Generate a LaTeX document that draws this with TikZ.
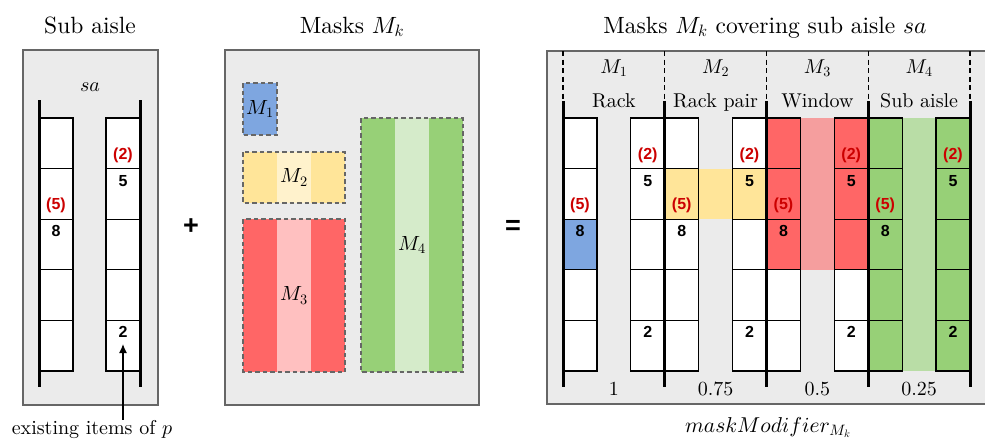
\documentclass[tikz,border=0pt]{standalone}
\usepackage{fontspec}
% Latin Modern in its 10pt design at every size
\setmainfont{lmroman10-regular.otf}[Ligatures=TeX, ItalicFont=lmroman10-italic.otf, BoldFont=lmroman10-bold.otf]
\DeclareFontShape{OML}{cmm}{m}{it}{<->cmmi10}{}
\DeclareFontShape{OT1}{cmr}{m}{n}{<->cmr10}{}
\newfontfamily\cellfont{Liberation Sans}
\usetikzlibrary{arrows.meta}

\definecolor{panelfill}{HTML}{EBEBEB}
\definecolor{panelline}{HTML}{666666}
\definecolor{maskblue}{HTML}{7EA6E0}
\definecolor{maskyellow}{HTML}{FFE599}
\definecolor{maskyellowlt}{HTML}{FFF2CC}
\definecolor{maskred}{HTML}{FF6666}
\definecolor{maskredlt}{HTML}{FFC0C0}
\definecolor{maskredmid}{HTML}{F59E9E}
\definecolor{maskgreen}{HTML}{97D077}
\definecolor{maskgreenlt}{HTML}{D5EBCA}
\definecolor{maskgreenmid}{HTML}{B9DDA6}
\definecolor{itemred}{HTML}{CC0000}

\tikzset{
  panel/.style={draw=panelline, fill=panelfill, line width=1.5pt},
  cell/.style={draw=black, line width=1.3pt},
  rackline/.style={draw=black, line width=3pt},
  sectionsep/.style={draw=black, line width=1.3pt, dash pattern=on 5pt off 3.5pt},
  maskbox/.style={draw=panelline, line width=1.3pt, dash pattern=on 4.5pt off 3pt},
  demand/.style={text=itemred, font=\cellfont\bfseries\fontsize{16}{18}\selectfont, inner sep=0pt},
  stock/.style={text=black, font=\cellfont\bfseries\fontsize{16}{18}\selectfont, inner sep=0pt},
  heading/.style={font=\fontsize{23.5}{28}\selectfont, anchor=base, inner sep=0pt},
  caption/.style={font=\fontsize{20}{24}\selectfont, anchor=base, inner sep=0pt},
  masklabel/.style={font=\fontsize{20.5}{24}\selectfont, inner sep=0pt},
  operator/.style={font=\cellfont\bfseries\fontsize{27}{30}\selectfont, inner sep=0pt},
  pointer/.style={draw=black, line width=1.3pt, -{Latex[length=9pt,width=8pt]}},
}

\begin{document}
\begin{tikzpicture}[x=1pt,y=-1pt]
\clip (0,0) rectangle (985,440);

% ---------- panels and headings ----------
\draw[panel] (23,50) rectangle (158,405);
\draw[panel] (225,50) rectangle (479,405);
\draw[panel] (547,51) rectangle (1000,404);

\node[heading] (t-sub)   at (90,33)  {Sub aisle};
\node[heading] (t-masks) at (352,33) {Masks $M_k$};
\node[heading] (t-cover) at (765,33) {Masks $M_k$ covering sub aisle $sa$};

\node[operator] (plus)   at (191,227) {+};
\node[operator] (equals) at (513,227) {=};

% ---------- sub aisle sa ----------
\node[caption] (sa) at (90,91) {$sa$};
\foreach \r in {0,...,4}{
  \draw[cell, fill=white] (39,118+50.6*\r) rectangle ++(34,50.6);
  \draw[cell, fill=white] (106,118+50.6*\r) rectangle ++(34,50.6);
}
\draw[rackline] (39,100) -- (39,387);
\draw[rackline] (140,100) -- (140,387);

\node[demand] (sa-d5) at (56,205) {(5)};
\node[stock]  (sa-s8) at (56,231) {8};
\node[demand] (sa-d2) at (123,155) {(2)};
\node[stock]  (sa-s5) at (123,181) {5};
\node[stock]  (sa-s2) at (123,332) {2};

\node[caption] (note) at (92,434) {existing items of $p$};
\coordinate (tip) at (123,344);
\draw[pointer] (note.north -| tip) -- (tip);

% ---------- masks ----------
\fill[maskblue] (243,83) rectangle ++(34,52);
\draw[maskbox]  (243,83) rectangle ++(34,52);
\node[masklabel] (m1) at (260,109) {$M_1$};

\fill[maskyellow]   (243,152) rectangle ++(102,51);
\fill[maskyellowlt] (277,152) rectangle ++(34,51);
\draw[maskbox]      (243,152) rectangle ++(102,51);
\node[masklabel] (m2) at (294,177.5) {$M_2$};

\fill[maskred]   (243,219) rectangle ++(102,153);
\fill[maskredlt] (277,219) rectangle ++(34,153);
\draw[maskbox]   (243,219) rectangle ++(102,153);
\node[masklabel] (m3) at (294,295.5) {$M_3$};

\fill[maskgreen]   (361,118) rectangle ++(102,254);
\fill[maskgreenlt] (395,118) rectangle ++(34,254);
\draw[maskbox]     (361,118) rectangle ++(102,254);
\node[masklabel] (m4) at (412,245) {$M_4$};

% ---------- masks laid over the sub aisle ----------
% aisle fills between the two racks
\fill[maskyellow]   (698.75,168.6) rectangle (732.5,219.2);
\fill[maskredmid]   (800.5,118)    rectangle (834.25,269.8);
\fill[maskgreenmid] (902.25,118)   rectangle (936,371);

\foreach \L/\R in {563/664.75, 664.75/766.5, 766.5/868.25, 868.25/970}{
  \foreach \r in {0,...,4}{
    \draw[cell, fill=white] (\L,118+50.6*\r) rectangle ++(34,50.6);
    \draw[cell, fill=white] (\R-34,118+50.6*\r) rectangle ++(34,50.6);
  }
}
% M1: one rack cell
\draw[cell, fill=maskblue] (563,219.2) rectangle ++(34,50.6);
% M2: one level across the rack pair
\draw[cell, fill=maskyellow] (664.75,168.6) rectangle ++(34,50.6);
\draw[cell, fill=maskyellow] (732.5,168.6) rectangle ++(34,50.6);
% M3: three levels in both racks
\foreach \r in {0,1,2}{
  \draw[cell, fill=maskred] (766.5,118+50.6*\r) rectangle ++(34,50.6);
  \draw[cell, fill=maskred] (834.25,118+50.6*\r) rectangle ++(34,50.6);
}
% M4: the whole sub aisle
\foreach \r in {0,...,4}{
  \draw[cell, fill=maskgreen] (868.25,118+50.6*\r) rectangle ++(34,50.6);
  \draw[cell, fill=maskgreen] (936,118+50.6*\r) rectangle ++(34,50.6);
}

\foreach \x in {563, 664.75, 766.5, 868.25, 970}{
  \draw[sectionsep] (\x,51) -- (\x,101);
  \draw[rackline] (\x,101) -- (\x,387);
}

\foreach \L/\R/\m/\name/\val [count=\k] in
  {563/664.75/1/Rack/1, 664.75/766.5/2/Rack pair/0.75,
   766.5/868.25/3/Window/0.5, 868.25/970/4/Sub aisle/0.25}{
  \node[caption] (mk\k)  at ({(\L+\R)/2},73.3) {$M_\m$};
  \node[caption] (lv\k)  at ({(\L+\R)/2},107)  {\name};
  \node[caption] (mod\k) at ({(\L+\R)/2},395)  {$\val$};
  \node[demand] (d5-\k) at (\L+17,205) {(5)};
  \node[stock]  (s8-\k) at (\L+17,231) {8};
  \node[demand] (d2-\k) at (\R-17,155) {(2)};
  \node[stock]  (s5-\k) at (\R-17,181) {5};
  \node[stock]  (s2-\k) at (\R-17,332) {2};
}

\node[caption, font=\fontsize{21.5}{24}\selectfont] (modifier) at (768,432) {$maskModifier_{M_k}$};
\end{tikzpicture}
\end{document}
